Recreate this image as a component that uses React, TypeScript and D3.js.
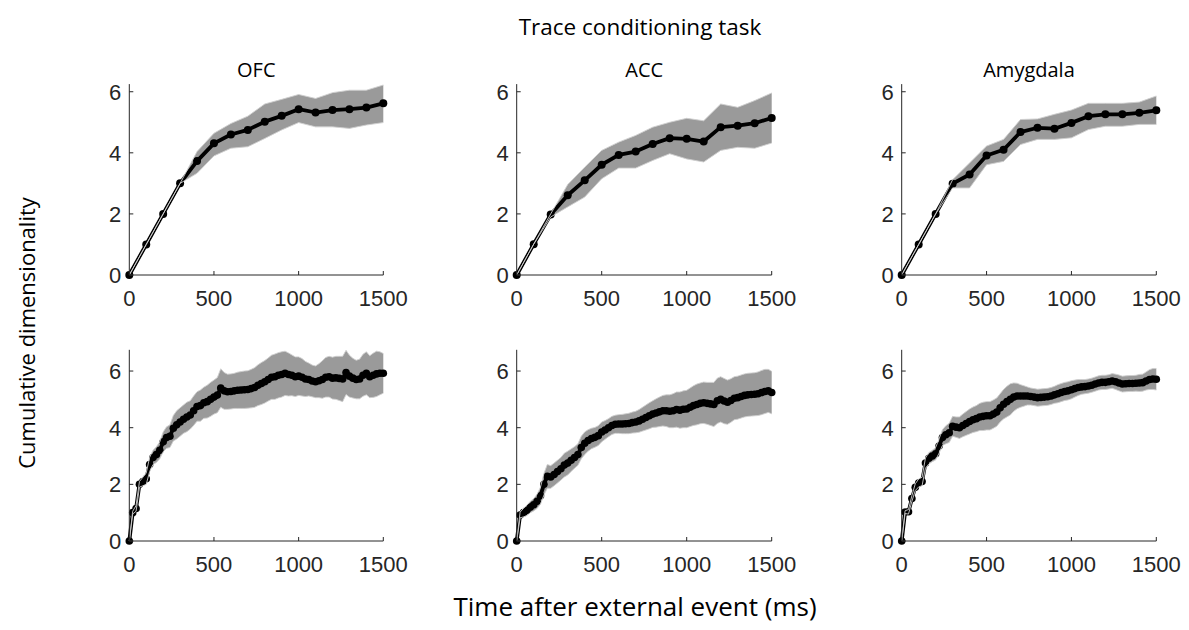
import React from "react";
import * as d3 from "d3";

// ---------- data ----------
const regions = ["OFC", "ACC", "Amygdala"];
const xTicks = [0, 500, 1000, 1500];
const yTicks = [0, 2, 4, 6];

const timesTop = d3.range(0, 1501, 100);
const timesBottom = d3.range(0, 1501, 20);

// Top row (coarse bins)
const ofcTopMean = [0, 1.0, 2.0, 3.0, 3.73, 4.31, 4.6, 4.75, 5.02, 5.21, 5.43, 5.32, 5.4, 5.43, 5.48, 5.62];
const ofcTopUpper = [0, 1.0, 2.0, 3.0, 4.04, 4.64, 4.96, 5.2, 5.6, 5.75, 5.91, 5.78, 5.97, 6.05, 6.05, 6.22];
const ofcTopLower = [0, 1.0, 2.0, 3.0, 3.33, 3.9, 4.15, 4.2, 4.47, 4.75, 4.99, 4.85, 4.85, 4.8, 4.91, 4.99];

const accTopMean = [0, 1.01, 1.98, 2.61, 3.1, 3.61, 3.93, 4.04, 4.29, 4.48, 4.46, 4.37, 4.84, 4.89, 4.97, 5.14];
const accTopUpper = [0, 1.01, 2.0, 2.96, 3.53, 4.08, 4.35, 4.57, 4.84, 5.0, 5.13, 5.05, 5.6, 5.49, 5.71, 5.96];
const accTopLower = [0, 1.01, 1.9, 2.23, 2.55, 3.15, 3.5, 3.5, 3.75, 3.97, 3.8, 3.7, 4.08, 4.18, 4.15, 4.32];

const amyTopMean = [0, 1.0, 2.0, 2.99, 3.29, 3.91, 4.1, 4.68, 4.82, 4.79, 4.98, 5.2, 5.26, 5.26, 5.31, 5.39];
const amyTopUpper = [0, 1.0, 2.0, 3.12, 3.67, 4.22, 4.44, 5.09, 5.11, 5.26, 5.4, 5.62, 5.62, 5.62, 5.66, 5.86];
const amyTopLower = [0, 1.0, 2.0, 2.85, 2.85, 3.61, 3.72, 4.27, 4.44, 4.44, 4.49, 4.76, 4.87, 4.87, 4.93, 4.93];

// Bottom row (fine bins)
const ofcBotMean = [
  0, 1.0, 1.15, 2.0, 2.1, 2.2, 2.7, 2.95, 3.05, 3.2, 3.5, 3.65, 3.7, 3.98, 4.1, 4.2,
  4.3, 4.38, 4.45, 4.6, 4.75, 4.78, 4.88, 4.92, 5.0, 5.08, 5.15, 5.4, 5.3, 5.27, 5.28,
  5.3, 5.32, 5.33, 5.34, 5.35, 5.38, 5.42, 5.5, 5.56, 5.62, 5.7, 5.78, 5.8, 5.85, 5.88,
  5.92, 5.88, 5.85, 5.8, 5.82, 5.78, 5.72, 5.7, 5.65, 5.62, 5.66, 5.7, 5.78, 5.8, 5.75,
  5.76, 5.74, 5.72, 5.95, 5.82, 5.75, 5.7, 5.72, 5.85, 5.92, 5.8, 5.85, 5.9, 5.92, 5.92,
];
const ofcBotErr = [
  0, 0.05, 0.1, 0.1, 0.15, 0.2, 0.25, 0.25, 0.28, 0.3, 0.35, 0.38, 0.4, 0.45, 0.5, 0.5,
  0.5, 0.52, 0.5, 0.52, 0.52, 0.55, 0.55, 0.58, 0.6, 0.6, 0.62, 0.68, 0.65, 0.62, 0.62,
  0.62, 0.64, 0.65, 0.66, 0.66, 0.68, 0.7, 0.72, 0.74, 0.75, 0.76, 0.78, 0.8, 0.8, 0.8,
  0.78, 0.76, 0.72, 0.7, 0.68, 0.66, 0.62, 0.58, 0.56, 0.56, 0.6, 0.66, 0.7, 0.72, 0.74,
  0.76, 0.78, 0.8, 0.78, 0.74, 0.7, 0.68, 0.7, 0.74, 0.76, 0.74, 0.78, 0.8, 0.76, 0.7,
];

const accBotMean = [
  0, 0.92, 1.0, 1.08, 1.2, 1.28, 1.4, 1.6, 2.0, 2.28, 2.26, 2.35, 2.45, 2.55, 2.68, 2.75,
  2.85, 2.95, 3.05, 3.3, 3.45, 3.55, 3.62, 3.66, 3.72, 3.85, 3.92, 4.0, 4.08, 4.12, 4.13,
  4.13, 4.14, 4.15, 4.18, 4.2, 4.24, 4.3, 4.36, 4.42, 4.48, 4.52, 4.56, 4.6, 4.6, 4.58,
  4.6, 4.64, 4.62, 4.65, 4.66, 4.72, 4.78, 4.82, 4.86, 4.88, 4.86, 4.84, 4.82, 4.95, 5.0,
  4.94, 4.9, 4.96, 5.04, 5.06, 5.1, 5.14, 5.16, 5.17, 5.18, 5.2, 5.24, 5.28, 5.3, 5.24,
];
const accBotErr = [
  0, 0.1, 0.15, 0.18, 0.2, 0.22, 0.25, 0.3, 0.38, 0.42, 0.4, 0.4, 0.4, 0.4, 0.42, 0.42,
  0.4, 0.38, 0.38, 0.4, 0.4, 0.38, 0.36, 0.35, 0.35, 0.35, 0.33, 0.32, 0.32, 0.32, 0.33,
  0.34, 0.35, 0.36, 0.37, 0.38, 0.4, 0.42, 0.44, 0.46, 0.47, 0.5, 0.52, 0.54, 0.56, 0.58,
  0.6, 0.62, 0.64, 0.65, 0.66, 0.68, 0.7, 0.72, 0.72, 0.73, 0.74, 0.76, 0.78, 0.8, 0.8,
  0.8, 0.78, 0.77, 0.76, 0.76, 0.76, 0.76, 0.76, 0.76, 0.76, 0.77, 0.78, 0.78, 0.76, 0.75,
];

const amyBotMean = [
  0, 1.02, 1.03, 1.5, 1.9, 2.05, 2.1, 2.75, 2.92, 3.0, 3.08, 3.35, 3.65, 3.75, 3.82, 4.05,
  4.02, 4.0, 4.08, 4.15, 4.22, 4.28, 4.32, 4.38, 4.4, 4.42, 4.42, 4.48, 4.55, 4.7, 4.83,
  4.92, 5.0, 5.08, 5.12, 5.12, 5.12, 5.12, 5.1, 5.08, 5.06, 5.07, 5.08, 5.09, 5.12, 5.16,
  5.2, 5.24, 5.28, 5.3, 5.34, 5.38, 5.42, 5.44, 5.45, 5.47, 5.5, 5.54, 5.58, 5.6, 5.6,
  5.62, 5.65, 5.62, 5.58, 5.54, 5.55, 5.56, 5.56, 5.57, 5.58, 5.59, 5.65, 5.7, 5.72, 5.71,
];
const amyBotErr = [
  0, 0.05, 0.08, 0.1, 0.12, 0.14, 0.15, 0.18, 0.2, 0.2, 0.22, 0.25, 0.28, 0.32, 0.34, 0.35,
  0.36, 0.38, 0.4, 0.42, 0.44, 0.45, 0.46, 0.48, 0.5, 0.5, 0.5, 0.5, 0.5, 0.5, 0.52,
  0.54, 0.55, 0.5, 0.45, 0.4, 0.36, 0.32, 0.3, 0.3, 0.3, 0.3, 0.3, 0.3, 0.3, 0.3,
  0.32, 0.32, 0.32, 0.32, 0.32, 0.3, 0.28, 0.26, 0.25, 0.25, 0.25, 0.25, 0.25, 0.25, 0.25,
  0.25, 0.26, 0.27, 0.28, 0.28, 0.28, 0.28, 0.28, 0.28, 0.3, 0.3, 0.32, 0.35, 0.37, 0.38,
];

// ---------- build panel series ----------
type Pt = { t: number; m: number; lo: number; hi: number };

function topSeries(mean: number[], up: number[], lo: number[]): Pt[] {
  return timesTop.map((t, i) => ({ t, m: mean[i], lo: lo[i], hi: up[i] }));
}
function botSeries(mean: number[], err: number[]): Pt[] {
  return timesBottom.map((t, i) => ({ t, m: mean[i], lo: mean[i] - err[i], hi: mean[i] + err[i] }));
}

const topRow = [
  topSeries(ofcTopMean, ofcTopUpper, ofcTopLower),
  topSeries(accTopMean, accTopUpper, accTopLower),
  topSeries(amyTopMean, amyTopUpper, amyTopLower),
];
const bottomRow = [
  botSeries(ofcBotMean, ofcBotErr),
  botSeries(accBotMean, accBotErr),
  botSeries(amyBotMean, amyBotErr),
];

// ---------- layout ----------
const W = 1189;
const H = 630;
const panelX = [
  [129.3, 383.3],
  [516.7, 771.7],
  [901.7, 1156.3],
];
const rowY = [
  { y0: 275, y1: 84.1, ymax: 6.25 },
  { y0: 541, y1: 349.8, ymax: 6.75 },
];

const AXIS = "#262626";
const BAND = "#9a9a9a";
const EDGE = "#cfcfcf";
const TICKFONT = "'Liberation Sans', Arial, Helvetica, sans-serif";
const LABELFONT = "'Open Sans', 'Noto Sans', sans-serif";

function Panel({ data, col, row, title }: { data: Pt[]; col: number; row: number; title?: string }) {
  const [xa, xb] = panelX[col];
  const r = rowY[row];
  const x = d3.scaleLinear().domain([0, 1500]).range([xa, xb]);
  const y = d3.scaleLinear().domain([0, r.ymax]).range([r.y0, r.y1]);
  const area = d3
    .area<Pt>()
    .x((d) => x(d.t))
    .y0((d) => y(d.lo))
    .y1((d) => y(d.hi));
  const line = d3
    .line<Pt>()
    .x((d) => x(d.t))
    .y((d) => y(d.m));
  const loLine = d3
    .line<Pt>()
    .x((d) => x(d.t))
    .y((d) => y(d.lo));
  const hiLine = d3
    .line<Pt>()
    .x((d) => x(d.t))
    .y((d) => y(d.hi));
  const tl = 4;
  return (
    <g>
      <path d={area(data) || ""} fill={BAND} stroke="none" />
      <path d={line(data) || ""} fill="none" stroke="#000" strokeWidth={3.8} strokeLinejoin="round" />
      {data.map((d, i) => (
        <circle key={i} cx={x(d.t)} cy={y(d.m)} r={row === 0 ? 4 : 3.8} fill="#000" />
      ))}
      <path d={loLine(data) || ""} fill="none" stroke={EDGE} strokeWidth={0.9} />
      <path d={hiLine(data) || ""} fill="none" stroke={EDGE} strokeWidth={0.9} />
      {/* axes */}
      <line x1={xa} x2={xb} y1={r.y0} y2={r.y0} stroke={AXIS} strokeWidth={1} />
      <line x1={xa} x2={xa} y1={r.y0} y2={r.y1} stroke={AXIS} strokeWidth={1} />
      {xTicks.map((t) => (
        <g key={"x" + t}>
          <line x1={x(t)} x2={x(t)} y1={r.y0} y2={r.y0 - tl} stroke={AXIS} strokeWidth={1} />
          <text x={x(t)} y={r.y0 + 31} textAnchor="middle" fontFamily={TICKFONT} fontSize={22} fill={AXIS}>
            {t}
          </text>
        </g>
      ))}
      {yTicks.map((t) => (
        <g key={"y" + t}>
          <line x1={xa} x2={xa + tl} y1={y(t)} y2={y(t)} stroke={AXIS} strokeWidth={1} />
          <text x={xa - 8} y={y(t) + 8} textAnchor="end" fontFamily={TICKFONT} fontSize={22} fill={AXIS}>
            {t}
          </text>
        </g>
      ))}
      {title && (
        <text x={(xa + xb) / 2} y={77} textAnchor="middle" fontFamily={LABELFONT} fontSize={20} fill="#000">
          {title}
        </text>
      )}
    </g>
  );
}

export default function App() {
  return (
    <svg
      width={W}
      height={H}
      viewBox={`0 0 ${W} ${H}`}
      style={{ position: "absolute", left: 0, top: 0, background: "#fff" }}
    >
      <rect width={W} height={H} fill="#fff" />
      <text x={640} y={35} textAnchor="middle" fontFamily={LABELFONT} fontSize={22.5} fill="#000">
        Trace conditioning task
      </text>
      {topRow.map((d, i) => (
        <Panel key={"t" + i} data={d} col={i} row={0} title={regions[i]} />
      ))}
      {bottomRow.map((d, i) => (
        <Panel key={"b" + i} data={d} col={i} row={1} />
      ))}
      <text
        transform={`translate(35, 333) rotate(-90)`}
        textAnchor="middle"
        fontFamily={LABELFONT}
        fontSize={22}
        fill="#000"
      >
        Cumulative dimensionality
      </text>
      <text x={635} y={616} textAnchor="middle" fontFamily={LABELFONT} fontSize={26} fill="#000">
        Time after external event (ms)
      </text>
    </svg>
  );
}
